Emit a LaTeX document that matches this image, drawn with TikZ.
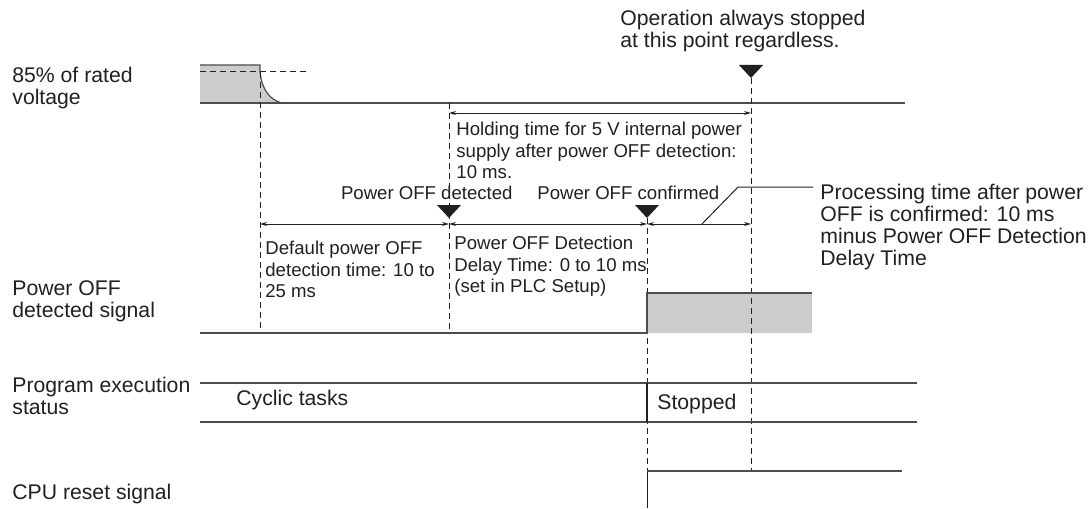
\documentclass[tikz,border=0pt]{standalone}
\usepackage{fontspec}
\setmainfont{Liberation Sans}
\usetikzlibrary{arrows.meta}

\definecolor{ink}{HTML}{231F20}
\definecolor{wavegray}{HTML}{4D4D4D}
\definecolor{fillgray}{HTML}{CCCCCC}

\tikzset{
  txt/.style={inner sep=0pt, text=ink, align=left, anchor=north west},
  smalltxt/.style={font=\fontsize{9.3pt}{10.6pt}\selectfont},
  wave/.style={draw=wavegray, line width=0.6pt},
  dashline/.style={draw=ink, line width=0.5pt, dash pattern=on 3pt off 2pt},
  dim/.style={draw=ink, line width=0.5pt, {Stealth[length=3.5pt,width=2pt]}-{Stealth[length=3.5pt,width=2pt]}},
  downmark/.pic={\fill[ink] (-12,-13) -- (12,-13) -- (0,0) -- cycle;}
}

\begin{document}
\begin{tikzpicture}[x=0.5pt, y=-0.5pt, every node/.style={font=\fontsize{10.6pt}{10.9pt}\selectfont}]
  \useasboundingbox (0,0) rectangle (1090,508);

  % Signal labels
  \node[txt] (lblVolt) at (12,67) {85\% of rated\\voltage};
  \node[txt] (lblSig) at (12,280) {Power OFF\\detected signal};
  \node[txt] (lblProg) at (12,377) {Program execution\\status};
  \node[txt] (lblCpu) at (12,484) {CPU reset signal};

  % Supply voltage
  \fill[fillgray] (200,65) -- (260,65) -- (260,72) .. controls (262,90) and (270,100) .. (282,103) -- (200,103) -- cycle;
  \draw[wave] (200,65) -- (260,65) -- (260,72) .. controls (262,90) and (270,100) .. (282,103);
  \draw[wave] (200,103) -- (905,103);
  \draw[dashline] (200,72) -- (310,72);

  % Power OFF detected signal
  \fill[fillgray] (647,293) rectangle (812,333);

  % Time markers
  \draw[dashline] (260,72) -- (260,333);
  \draw[dashline] (449,103) -- (449,333);
  \draw[dashline] (647,218) -- (647,471);
  \draw[dashline] (751,78) -- (751,471);

  \draw[wave] (200,333) -- (647,333) -- (647,293) -- (812,293);

  % Program execution status
  \draw[wave] (200,383) -- (917,383);
  \draw[wave] (200,422) -- (917,422);
  \draw[draw=ink, line width=0.7pt] (647,383) -- (647,422);
  \node[inner sep=0pt, text=ink, anchor=base west] (txtCyclic) at (236,405.6) {Cyclic tasks};
  \node[inner sep=0pt, text=ink, anchor=base west] (txtStopped) at (657,409.6) {Stopped};

  % CPU reset signal
  \draw[draw=ink, line width=0.5pt] (647,508) -- (647,471);
  \draw[wave] (647,471) -- (902,471);

  % Triangles
  \pic at (751,78) {downmark};
  \pic at (449,218) {downmark};
  \pic at (647,218) {downmark};

  % Dimension arrows
  \coordinate (dOff) at (260,224);
  \coordinate (dDet) at (449,224);
  \coordinate (dConf) at (647,224);
  \coordinate (dStop) at (751,224);
  \coordinate (hDet) at (449,113);
  \coordinate (hStop) at (751,113);
  \draw[dim] (dOff) -- (dDet);
  \draw[dim] (dDet) -- (dConf);
  \draw[dim] (dConf) -- (dStop);
  \draw[dim] (hDet) -- (hStop);

  % Notes
  \node[txt] (noteStop) at (620,10) {Operation always stopped\\at this point regardless.};
  \node[txt, smalltxt] (noteHold) at (456,122) {Holding time for 5 V internal power\\supply after power OFF detection:\\10 ms.};
  \node[inner sep=0pt, text=ink, smalltxt, anchor=base east] (txtDet) at (513,199.7) {Power OFF detected};
  \node[inner sep=0pt, text=ink, smalltxt, anchor=base west] (txtConf) at (537,199.7) {Power OFF confirmed};
  \node[txt, smalltxt] (noteDefault) at (265,241) {Default power OFF\\detection time: 10 to\\25 ms};
  \node[txt, smalltxt] (noteDelay) at (454,236) {Power OFF Detection\\Delay Time: 0 to 10 ms\\(set in PLC Setup)};
  \node[txt] (noteProc) at (820,184) {Processing time after power\\OFF is confirmed: 10 ms\\minus Power OFF Detection\\Delay Time};

  % Leader to processing time note
  \coordinate (procFoot) at (702,224);
  \coordinate (procBend) at (738,187);
  \coordinate (procEnd) at (813,187);
  \draw[draw=ink, line width=0.5pt] (procFoot) -- (procBend) -- (procEnd);
\end{tikzpicture}
\end{document}
